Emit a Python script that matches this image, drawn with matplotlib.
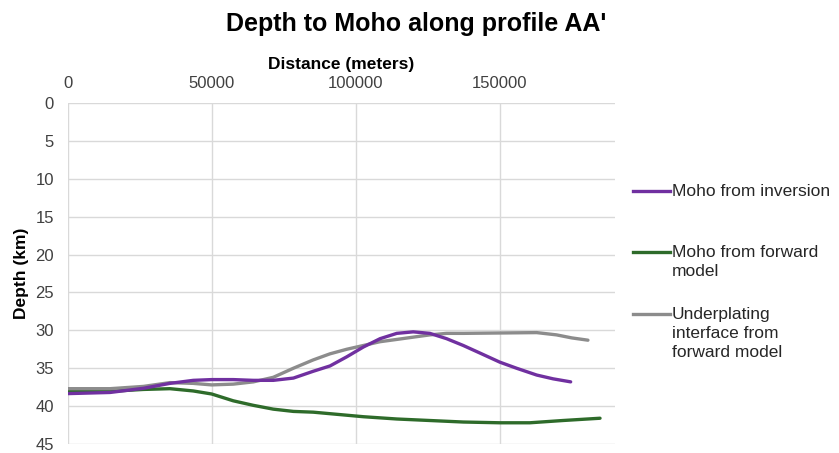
import matplotlib
matplotlib.use("Agg")
import matplotlib.pyplot as plt
from matplotlib.lines import Line2D

plt.rcParams['font.family'] = ['Liberation Sans', 'DejaVu Sans']

# Distance along profile (m) and depth (km) for each interface
inv_x = [0, 14600, 26200, 35400, 43500, 49900, 57400, 64400, 71300, 78300,
         85200, 91000, 96800, 102600, 108400, 114200, 119900, 125700, 131500,
         137300, 143100, 150000, 155800, 162800, 168500, 174600]
inv_depth = [38.35, 38.2, 37.65, 37.0, 36.6, 36.5, 36.5, 36.6, 36.6, 36.3,
             35.4, 34.7, 33.5, 32.2, 31.1, 30.4, 30.2, 30.4, 31.1,
             32.0, 33.0, 34.2, 35.0, 35.9, 36.4, 36.8]

fwd_x = [0, 14600, 26200, 35400, 43500, 49900, 57400, 64400, 71300, 78300,
         85200, 91000, 102600, 114200, 125700, 137300, 150000, 160400, 171900,
         184800]
fwd_depth = [38.0, 38.05, 37.8, 37.7, 38.0, 38.4, 39.3, 39.9, 40.4, 40.7,
             40.8, 41.0, 41.4, 41.7, 41.9, 42.1, 42.2, 42.2, 41.9, 41.6]

under_x = [0, 14600, 26200, 35400, 43500, 49900, 57400, 64400, 71300, 78300,
           85200, 91000, 96800, 102600, 108400, 114200, 119900, 125700, 131500,
           137300, 150000, 162800, 169700, 175000, 180600]
under_depth = [37.7, 37.7, 37.4, 36.9, 37.0, 37.2, 37.1, 36.8, 36.2, 35.0,
               33.9, 33.1, 32.5, 32.0, 31.5, 31.2, 30.9, 30.6, 30.4,
               30.4, 30.35, 30.3, 30.6, 31.0, 31.3]

series_names = ["Moho from inversion", "Moho from forward\nmodel",
                "Underplating\ninterface from\nforward model"]
colors = ["#7030A0", "#2E6B2A", "#8C8C8C"]

x_ticks = [0, 50000, 100000, 150000]
y_ticks = [0, 5, 10, 15, 20, 25, 30, 35, 40, 45]

W, H = 839, 453
fig = plt.figure(figsize=(W / 100, H / 100), dpi=100)
ax = fig.add_axes([68 / W, 1 - 444 / H, (615 - 68) / W, (444 - 103) / H])

line_kw = dict(lw=2.4, solid_capstyle='round', solid_joinstyle='round')
ax.plot(fwd_x, fwd_depth, color=colors[1], zorder=3, **line_kw)
ax.plot(under_x, under_depth, color=colors[2], zorder=4, **line_kw)
ax.plot(inv_x, inv_depth, color=colors[0], zorder=5, **line_kw)

ax.set_xlim(0, 190000)
ax.set_ylim(45, 0)
ax.set_xticks(x_ticks)
ax.set_yticks(y_ticks)
ax.xaxis.tick_top()
ax.xaxis.set_label_position('top')
ax.tick_params(axis='both', length=0, labelsize=12, colors='#404040')
ax.tick_params(axis='x', pad=9)
ax.tick_params(axis='y', pad=10)
for s in ax.spines.values():
    s.set_visible(False)
ax.grid(True, color='#d9d9d9', lw=1)
ax.set_axisbelow(True)

ax.set_xlabel("Distance (meters)", fontsize=12.5, fontweight='bold', labelpad=5)
ax.set_ylabel("Depth (km)", fontsize=12.5, fontweight='bold', labelpad=5)

fig.text(416 / W, 1 - 24 / H, "Depth to Moho along profile AA'",
         ha='center', va='center', fontsize=18, fontweight='bold')

# Legend: handle sits beside the first line of each label
legend_rows = [191, 252, 314]
for name, c, yrow in zip(series_names, colors, legend_rows):
    fig.add_artist(Line2D([633 / W, 670 / W], [1 - yrow / H, 1 - yrow / H],
                          color=c, lw=2.4, transform=fig.transFigure))
    fig.text(672 / W, 1 - (yrow - 7) / H, name, ha='left', va='top',
             fontsize=12.5, color='#262626', linespacing=1.32)

fig.savefig("out.png", dpi=100)
